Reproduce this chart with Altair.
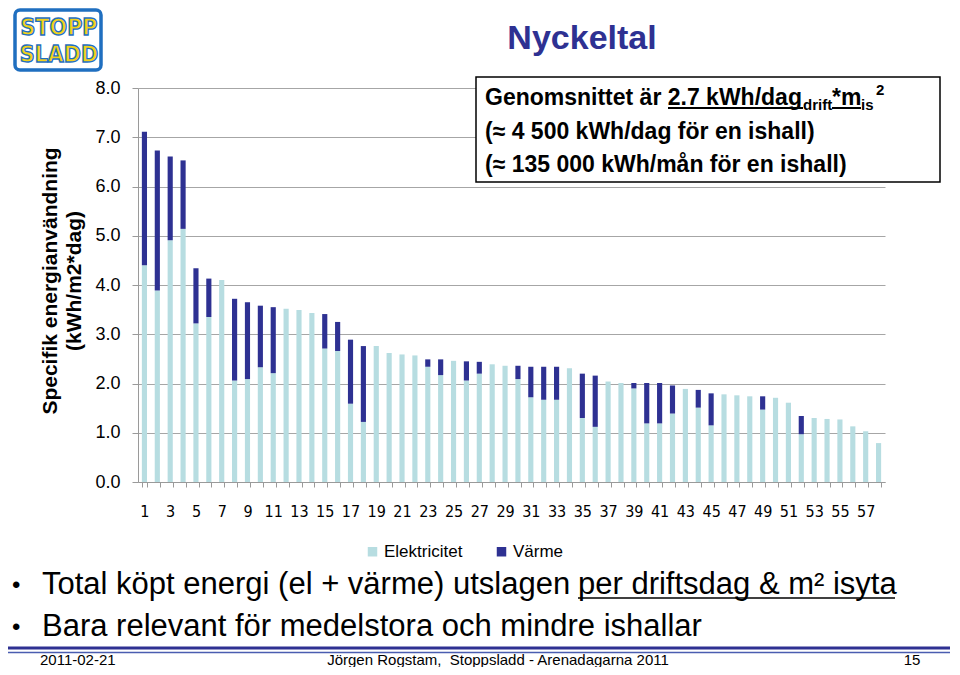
import altair as alt
import pandas as pd

# ---------------- data ----------------
halls = list(range(1, 59))
elektricitet = [4.40, 3.89, 4.91, 5.14, 3.22, 3.35, 4.10, 2.06, 2.09, 2.33,
                2.21, 3.52, 3.49, 3.43, 2.71, 2.66, 1.59, 1.22, 2.76, 2.62,
                2.59, 2.57, 2.34, 2.17, 2.46, 2.06, 2.20, 2.39, 2.36, 2.09,
                1.72, 1.67, 1.67, 2.31, 1.30, 1.12, 2.04, 2.01, 1.90, 1.19,
                1.19, 1.39, 1.89, 1.51, 1.15, 1.78, 1.76, 1.74, 1.47, 1.71,
                1.61, 0.97, 1.30, 1.28, 1.27, 1.13, 1.03, 0.79]
varme = [2.71, 2.84, 1.70, 1.39, 1.12, 0.78, 0.00, 1.66, 1.56, 1.25,
         1.34, 0.00, 0.00, 0.00, 0.70, 0.59, 1.30, 1.54, 0.00, 0.00,
         0.00, 0.00, 0.15, 0.32, 0.00, 0.39, 0.24, 0.00, 0.00, 0.27,
         0.62, 0.67, 0.67, 0.00, 0.90, 1.04, 0.00, 0.00, 0.11, 0.82,
         0.82, 0.57, 0.00, 0.36, 0.65, 0.00, 0.00, 0.00, 0.27, 0.00,
         0.00, 0.37, 0.00, 0.00, 0.00, 0.00, 0.00, 0.00]
series_names = ["Elektricitet", "Värme"]
series_colors = ["#b7dde1", "#2e3192"]
y_ticks = [0, 1, 2, 3, 4, 5, 6, 7, 8]

rows = []
for h, e, v in zip(halls, elektricitet, varme):
    rows.append({"hall": h, "typ": series_names[0], "value": e, "ord": 0})
    rows.append({"hall": h, "typ": series_names[1], "value": v, "ord": 1})
df = pd.DataFrame(rows)

SANS = "Liberation Sans, Arial, sans-serif"
NARROW = "Liberation Sans Narrow, Arial Narrow, DejaVu Sans Condensed, Liberation Sans, sans-serif"
OX, OY = 138, 88
W, H = 747, 394


def px(x):
    return x - OX


def py(y):
    return y - OY


one = alt.Data(values=[{}])


def txt(s, x, y, size, weight="normal", color="black", align="left",
        baseline="alphabetic", font=SANS, angle=0, stroke=None, sw=0):
    kw = dict(text=s, align=align, baseline=baseline, fontSize=size,
              fontWeight=weight, color=color, font=font)
    if angle:
        kw["angle"] = angle
    if stroke:
        kw["stroke"] = stroke
        kw["strokeWidth"] = sw
    return alt.Chart(one).mark_text(**kw).encode(
        x=alt.value(px(x)), y=alt.value(py(y)))


def rule(x1, x2, y1, y2, color, width):
    return alt.Chart(one).mark_rule(color=color, strokeWidth=width).encode(
        x=alt.value(px(x1)), x2=alt.value(px(x2)),
        y=alt.value(py(y1)), y2=alt.value(py(y2)))


def box(x1, x2, y1, y2, fill, stroke, sw, radius=0):
    kw = dict(fill=fill, stroke=stroke, strokeWidth=sw)
    if radius:
        kw["cornerRadius"] = radius
    return alt.Chart(one).mark_rect(**kw).encode(
        x=alt.value(px(x1)), x2=alt.value(px(x2)),
        y=alt.value(py(y1)), y2=alt.value(py(y2)))


bars = alt.Chart(df).mark_bar().encode(
    x=alt.X("hall:O",
            scale=alt.Scale(paddingInner=0.6, paddingOuter=0.3),
            axis=alt.Axis(title=None, labelAngle=0,
                          labelExpr="datum.value % 2 == 1 ? datum.label : ''",
                          tickBand="extent", tickSize=5, tickColor="#9a9a9a",
                          domainColor="#9a9a9a", labelFontSize=16,
                          labelFont=NARROW, labelPadding=16,
                          labelOverlap=False, labelColor="black")),
    y=alt.Y("value:Q", stack="zero",
            scale=alt.Scale(domain=[0, 8], nice=False),
            axis=alt.Axis(title=None, values=y_ticks, format=".1f",
                          labelFontSize=18, labelFont=SANS, labelColor="black",
                          labelPadding=12, tickSize=6, tickColor="#9a9a9a",
                          domainColor="#9a9a9a", gridColor="#a6a6a6",
                          gridWidth=1)),
    color=alt.Color("typ:N",
                    scale=alt.Scale(domain=series_names, range=series_colors),
                    legend=alt.Legend(orient="none", legendX=226, legendY=455,
                                      direction="horizontal", title=None,
                                      symbolType="square", symbolSize=90,
                                      symbolStrokeWidth=0,
                                      labelFontSize=17, labelFont=SANS,
                                      labelColor="black",
                                      columnPadding=30, labelOffset=3)),
    order=alt.Order("ord:Q"),
)

layers = [bars]

# annotation box
layers.append(box(476, 940, 77, 182, "white", "black", 1.5))
layers.append(txt("Genomsnittet är 2.7 kWh/dag", 485, 105, 23, "bold"))
layers.append(txt("drift", 803, 110, 15, "bold"))
layers.append(txt("*m", 832, 105, 23, "bold"))
layers.append(txt("is", 861, 110, 15, "bold"))
layers.append(txt("2", 876, 95, 15, "bold"))
layers.append(rule(668, 803, 108, 108, "black", 2))
layers.append(rule(832, 861, 108, 108, "black", 2))
layers.append(txt("(≈ 4 500 kWh/dag för en ishall)", 485, 139, 23, "bold"))
layers.append(txt("(≈ 135 000 kWh/mån för en ishall)", 485, 172, 23, "bold"))

# title
layers.append(txt("Nyckeltal", 582, 49, 34, "bold", "#2e3192", align="center"))

# y-axis title
layers.append(txt("Specifik energianvändning", 51, 281, 21, "bold",
                  align="center", baseline="middle", angle=270))
layers.append(txt("(kWh/m2*dag)", 75, 281, 21, "bold",
                  align="center", baseline="middle", angle=270))

# logo (approximation)
layers.append(box(15, 101, 10, 70, None, "#1f6fc0", 3.5, radius=5))
layers.append(txt("STOPP", 59, 35, 23, "bold", "#f2d21b", align="center",
                  font=NARROW, stroke="#1f6fc0", sw=1.3))
layers.append(txt("SLADD", 59, 62, 23, "bold", "#f2d21b", align="center",
                  font=NARROW, stroke="#1f6fc0", sw=1.3))

# bullets
layers.append(txt("•", 12, 593, 24))
layers.append(txt("Total köpt energi (el + värme) utslagen", 42, 594, 31))
layers.append(txt("per driftsdag & m² isyta", 578, 594, 31))
layers.append(rule(578, 895, 598, 598, "black", 1.5))
layers.append(txt("•", 12, 635, 24))
layers.append(txt("Bara relevant för medelstora och mindre ishallar", 42, 636, 31))

# footer
layers.append(rule(0, 960, 648, 648, "#2e3192", 3))
layers.append(rule(0, 960, 652.5, 652.5, "#4a5db0", 1.5))
layers.append(txt("2011-02-21", 40, 665, 15))
layers.append(txt("Jörgen Rogstam,\u00a0 Stoppsladd - Arenadagarna 2011", 498,
                  665, 15, align="center"))
layers.append(txt("15", 912, 665, 15, align="center"))

chart = alt.layer(*layers).properties(
    width=W, height=H,
    padding={"left": 130, "top": 80, "right": 65, "bottom": 185},
    autosize=alt.AutoSizeParams(type="none"),
    background="white",
).configure_view(stroke=None)

chart.save("out.html", embed_options={"renderer": "svg", "actions": False})
